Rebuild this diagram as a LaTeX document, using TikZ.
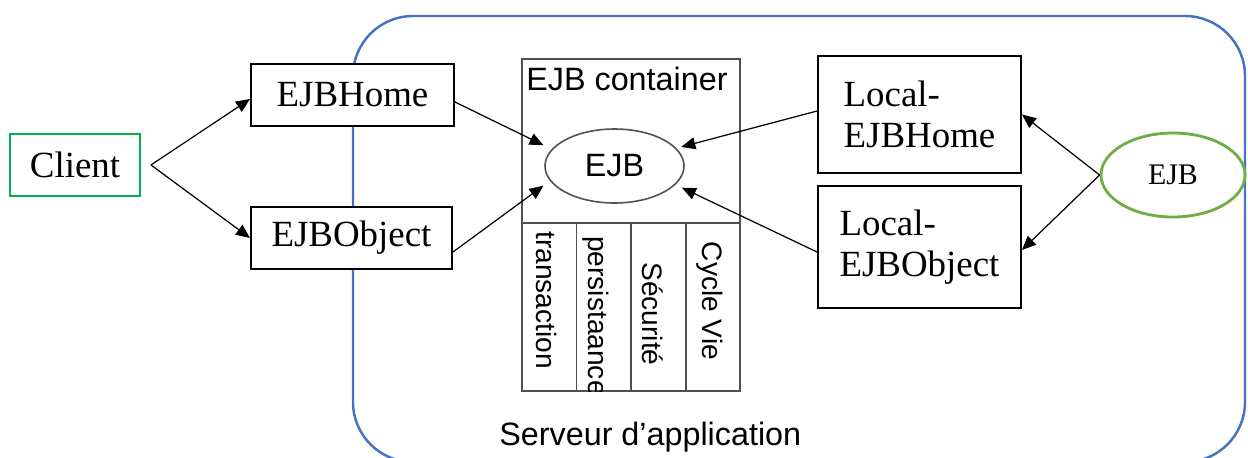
\documentclass[tikz,border=0pt]{standalone}
\usepackage{fontspec}
\setmainfont{Liberation Serif}
\newfontfamily\arialf{Liberation Sans}
\usetikzlibrary{arrows.meta,shapes.geometric}
\definecolor{srvblue}{HTML}{4472C4}
\definecolor{cligreen}{HTML}{00B050}
\definecolor{beangreen}{HTML}{70AD47}
\definecolor{contgray}{HTML}{505050}
\tikzset{
  box/.style={draw=black, line width=1.1pt, fill=white, inner sep=0pt,
    font=\fontsize{21}{23.2}\selectfont},
  conn/.style={line width=0.7pt, -{Triangle[length=0.28cm,width=0.24cm]}},
  contline/.style={draw=contgray, line width=0.9pt},
  sans/.style={font=\arialf\fontsize{18.4}{21}\selectfont},
  coltext/.style={font=\arialf\fontsize{16}{18}\selectfont, rotate=-90, inner sep=0pt},
  colbox/.style={contline, inner sep=0pt, anchor=north west,
    minimum width=54.5*0.02cm, minimum height=168*0.02cm},
}
\begin{document}
\begin{tikzpicture}[x=0.02cm,y=-0.02cm]
\path[use as bounding box] (0,0) rectangle (1248,457);

% application server frame, running off the bottom edge
\begin{scope}
  \clip (0,0) rectangle (1248,457);
  \draw[srvblue, line width=1.4pt, rounded corners=1.2cm] (353,16) rectangle (1245,462);
\end{scope}

% EJB container with its service columns
\node[contline, inner sep=0pt, anchor=north west,
      minimum width=218*0.02cm, minimum height=332*0.02cm] (cont) at (521,58) {};
\node[colbox] (colA) at (521,222) {};
\node[colbox] (colB) at (575.5,222) {};
\node[colbox] (colC) at (630,222) {};
\node[colbox, line width=1.4pt] (colD) at (684.5,222) {};
\node[sans, anchor=base west, inner sep=0pt] (conttitle) at (526,90) {EJB container};
\node[ellipse, contline, inner sep=0pt, sans,
      minimum width=139*0.02cm, minimum height=74*0.02cm] (ejb) at (614.5,166) {EJB};

\node[coltext] (ttrans) at (547,300) {transaction};
\begin{scope}
  \clip (colB.north west) rectangle (colB.south east);
  \node[coltext] (tpers) at (596,316) {persistaance};
\end{scope}
\node[coltext] (tsecu) at (653,314) {Sécurité};
\node[coltext] (tcycle) at (710,301) {Cycle Vie};

\node[sans, anchor=base west, inner sep=0pt] (srv) at (499,445) {Serveur d’application};

% client side and interfaces
\node[box, draw=cligreen, minimum width=130*0.02cm, minimum height=62*0.02cm] (client) at (75,165) {Client};
\node[box, minimum width=203*0.02cm, minimum height=62*0.02cm] (home) at (352.5,95) {EJBHome};
\node[box, minimum width=201*0.02cm, minimum height=62*0.02cm] (object) at (351.5,238) {EJBObject};
\node[box, align=left, minimum width=203*0.02cm, minimum height=117*0.02cm] (lhome) at (919.5,114.5) {Local-\\EJBHome};
\node[box, align=left, minimum width=203*0.02cm, minimum height=122*0.02cm] (lobject) at (919.5,247) {Local-\\EJBObject};
\node[ellipse, draw=beangreen, line width=1.6pt, inner sep=0pt,
      font=\fontsize{17}{20}\selectfont,
      minimum width=144*0.02cm, minimum height=84*0.02cm] (bean) at (1173,175) {EJB};

% connectors
\draw[conn] ([xshift=0.2cm]client.east) -- ([yshift=-0.08cm]home.west);
\draw[conn] ([xshift=0.2cm]client.east) -- (object.west);
\draw[conn, shorten >=0.18cm] ([yshift=-0.14cm]home.east) -- (ejb.165);
\draw[conn, shorten >=0.16cm] ([yshift=-0.28cm]object.east) -- (ejb.193);
\draw[conn, shorten >=0.1cm] ([yshift=0.07cm]lhome.west) -- (ejb.16);
\draw[conn, shorten >=0.14cm] ([yshift=-0.1cm]lobject.west) -- (ejb.343);
\draw[conn] (bean.west) -- (lhome.east);
\draw[conn] (bean.west) -- ([yshift=-0.06cm]lobject.east);
\end{tikzpicture}
\end{document}
